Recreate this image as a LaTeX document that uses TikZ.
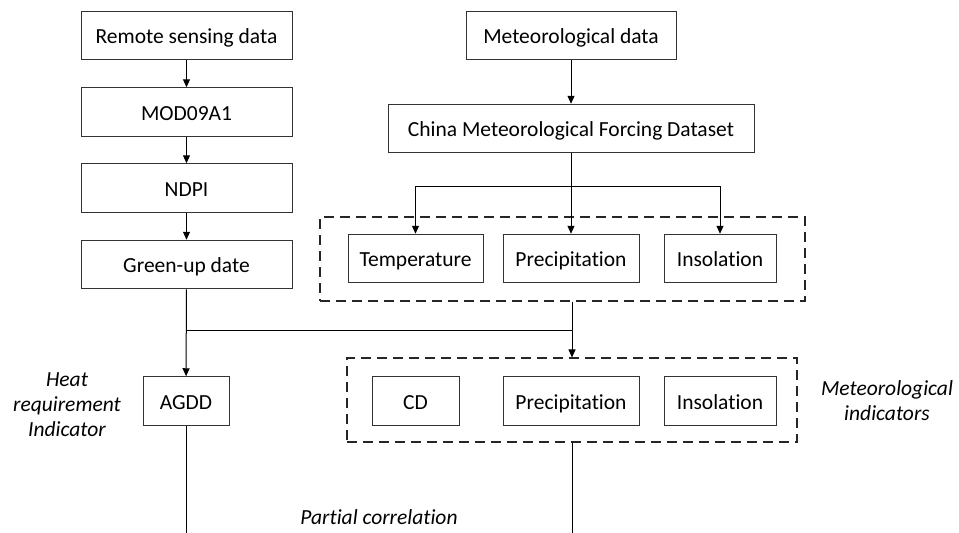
\documentclass[tikz,border=0pt]{standalone}
\usepackage{fontspec}
\setmainfont{Carlito}[Ligatures=NoCommon]
\usetikzlibrary{arrows.meta,calc,positioning}

\begin{document}
\begin{tikzpicture}[
  x=1pt,
  y=-1pt,
  >={Triangle[length=8pt,width=7pt]},
  every node/.style={font=\fontsize{21.5}{25}\selectfont},
  box/.style={draw=black!80, line width=1pt, minimum height=48.5pt, inner sep=0pt,
    text height=16pt, text depth=0pt, align=center},
  group/.style={draw=black!85, line width=1.1pt, dash pattern=on 10pt off 6pt, inner sep=0pt},
  note/.style={font=\fontsize{21.5}{25}\selectfont\itshape, align=center},
  link/.style={line width=1pt}
]
  \useasboundingbox (0,0) rectangle (959,533);

  % remote sensing branch
  \node[box, minimum width=211pt] (rs) at (186.5, 35.5) {Remote sensing data};
  \node[box, minimum width=211pt] (mod) at (186.5, 112) {MOD09A1};
  \node[box, minimum width=211pt] (ndpi) at (186.5, 188) {NDPI};
  \node[box, minimum width=211pt] (green) at (186.5, 264.5) {Green-up date};

  % meteorological branch
  \node[box, minimum width=210pt] (met) at (571, 35.5) {Meteorological data};
  \node[box, minimum width=366pt] (cmfd) at (571, 128.5) {China Meteorological Forcing Dataset};

  \node[group, minimum width=485pt, minimum height=84pt] (metbox) at (562.5, 259) {};
  \node[box, minimum width=135pt] (temp) at (415.5, 258.5) {Temperature};
  \node[box, minimum width=136pt] (prec1) at (571, 258.5) {Precipitation};
  \node[box, minimum width=112pt] (ins1) at (720, 258.5) {Insolation};

  % indicators
  \node[box, minimum width=86pt] (agdd) at (186, 401) {AGDD};
  \node[note] (heat) at (67, 405) {Heat\\requirement\\Indicator};

  \node[group, minimum width=450pt, minimum height=84pt] (indbox) at (572, 400) {};
  \node[box, minimum width=87pt] (cd) at (415.5, 401) {CD};
  \node[box, minimum width=136pt] (prec2) at (571, 401) {Precipitation};
  \node[box, minimum width=112pt] (ins2) at (720, 401) {Insolation};
  \node[note] (metind) at (887, 401) {Meteorological\\indicators};

  \node[note] (pcorr) at (379, 517) {Partial correlation};

  \coordinate (split) at (571, 186);
  \coordinate (join) at (572, 330);
  \coordinate (endL) at (186, 533);
  \coordinate (endR) at (572, 533);

  \draw[link,->] (rs) -- (mod);
  \draw[link,->] (mod) -- (ndpi);
  \draw[link,->] (ndpi) -- (green);
  \draw[link,->] (green) -- (agdd);
  \draw[link,->] (met) -- (cmfd);

  \draw[link] (cmfd) -- (split);
  \draw[link,->] (split) -| (temp.north);
  \draw[link,->] (split) -- (prec1);
  \draw[link,->] (split) -| (ins1.north);

  \draw[link] (green |- join) -- (join);
  \draw[link,->] (join |- metbox.south) -- (join |- indbox.north);

  \draw[link] (agdd) -- (endL);
  \draw[link] (join |- indbox.south) -- (endR);
\end{tikzpicture}
\end{document}
